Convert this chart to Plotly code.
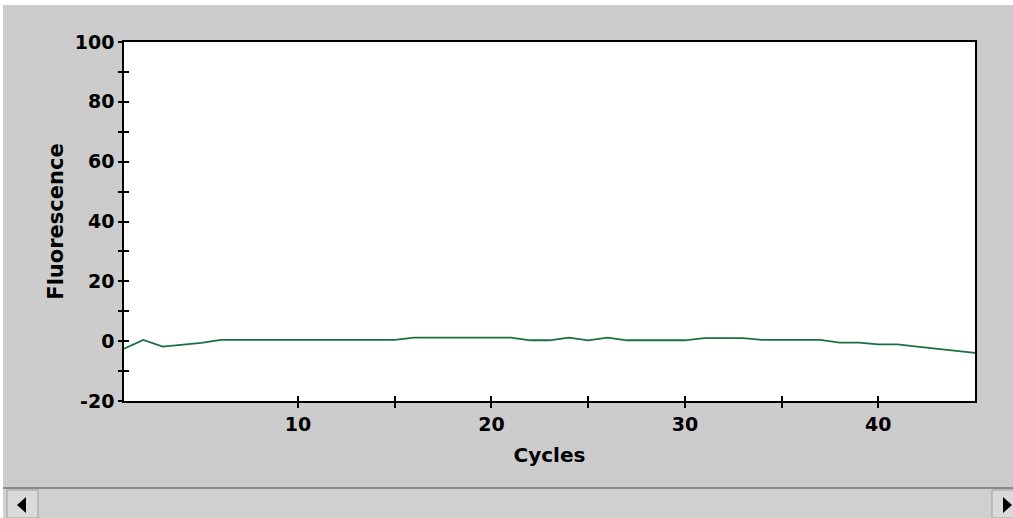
import plotly.graph_objects as go

cycles = list(range(1, 46))
fluorescence = [
    -2.5, 0.4, -1.8, -1.2, -0.6, 0.4, 0.4, 0.4, 0.4, 0.4,
    0.4, 0.4, 0.4, 0.4, 0.4, 1.2, 1.2, 1.2, 1.2, 1.2,
    1.2, 0.3, 0.3, 1.2, 0.3, 1.2, 0.3, 0.3, 0.3, 0.3,
    1.0, 1.0, 1.0, 0.4, 0.4, 0.4, 0.4, -0.5, -0.5, -1.1,
    -1.1, -1.8, -2.5, -3.2, -3.9,
]

x_tickvals = [10, 15, 20, 25, 30, 35, 40]
x_ticktext = ["10", "", "20", "", "30", "", "40"]
y_tickvals = [-20, -10, 0, 10, 20, 30, 40, 50, 60, 70, 80, 90, 100]
y_ticktext = ["-20", "", "0", "", "20", "", "40", "", "60", "", "80", "", "100"]
x_title = "Cycles"
y_title = "Fluorescence"

W, H = 1013, 518
L, R, T, B = 124, 38, 42, 117
PW, PH = W - L - R, H - T - B

def px(x):
    return (x - L) / PW

def py(y):
    return (H - B - y) / PH

GRAY = "#cccccc"
font_tick = dict(family="DejaVu Sans", size=19, color="black", weight="bold")
font_xtitle = dict(family="DejaVu Sans", size=20, color="black", weight="bold")
font_ytitle = dict(family="DejaVu Sans", size=21, color="black", weight="bold")

fig = go.Figure()
fig.add_trace(go.Scatter(
    x=cycles, y=fluorescence, mode="lines",
    line=dict(color="#1a7040", width=1.8),
    showlegend=False, hoverinfo="x+y",
))
# invisible trace on overlay axes so they render
fig.add_trace(go.Scatter(x=[1], y=[0], xaxis="x2", yaxis="y2", mode="markers",
                         marker=dict(opacity=0), showlegend=False, hoverinfo="skip"))

tick_style = dict(showgrid=False, zeroline=False, tickcolor="black", tickwidth=1.5)

fig.update_layout(
    width=W, height=H,
    margin=dict(l=L, r=R, t=T, b=B, pad=0),
    paper_bgcolor=GRAY, plot_bgcolor="white",
    xaxis=dict(range=[1, 45], tickmode="array", tickvals=x_tickvals, ticktext=x_ticktext,
               ticks="outside", ticklen=5, mirror=True, showline=True, linecolor="black",
               linewidth=1.5, tickfont=font_tick,
               title=dict(text=x_title, font=font_xtitle, standoff=14), **tick_style),
    yaxis=dict(range=[-20, 100], tickmode="array", tickvals=y_tickvals, ticktext=y_ticktext,
               ticks="outside", ticklen=4, mirror=True, showline=True, linecolor="black",
               linewidth=1.5, tickfont=font_tick,
               title=dict(text=y_title, font=font_ytitle, standoff=5), **tick_style),
    xaxis2=dict(range=[1, 45], overlaying="x", tickmode="array", tickvals=x_tickvals,
                ticks="inside", ticklen=5, showticklabels=False, showline=False, **tick_style),
    yaxis2=dict(range=[-20, 100], overlaying="y", tickmode="array", tickvals=y_tickvals,
                ticks="inside", ticklen=5, showticklabels=False, showline=False, **tick_style),
    shapes=[
        # white strips at top and left edge
        dict(type="rect", xref="paper", yref="paper", x0=px(0), x1=px(W), y0=py(5), y1=py(0),
             fillcolor="white", line=dict(width=0), layer="below"),
        dict(type="rect", xref="paper", yref="paper", x0=px(0), x1=px(3), y0=py(H), y1=py(0),
             fillcolor="white", line=dict(width=0), layer="below"),
        # scrollbar track
        dict(type="rect", xref="paper", yref="paper", x0=px(3), x1=px(W), y0=py(H), y1=py(488),
             fillcolor="#d0d0d0", line=dict(width=0), layer="below"),
        dict(type="line", xref="paper", yref="paper", x0=px(3), x1=px(W), y0=py(488), y1=py(488),
             line=dict(color="#8a8a8a", width=2)),
        # left button
        dict(type="rect", xref="paper", yref="paper", x0=px(7), x1=px(38), y0=py(H), y1=py(490),
             fillcolor="#dadada", line=dict(color="#a0a0a0", width=1)),
        dict(type="path", xref="paper", yref="paper",
             path=f"M {px(17)},{py(505)} L {px(26)},{py(497)} L {px(26)},{py(513)} Z",
             fillcolor="black", line=dict(width=0)),
        # right button
        dict(type="rect", xref="paper", yref="paper", x0=px(992), x1=px(W + 2), y0=py(H), y1=py(490),
             fillcolor="#dadada", line=dict(color="#a0a0a0", width=1)),
        dict(type="path", xref="paper", yref="paper",
             path=f"M {px(1012)},{py(505)} L {px(1003)},{py(497)} L {px(1003)},{py(513)} Z",
             fillcolor="black", line=dict(width=0)),
    ],
)

fig.write_html(
    "out.html",
    config={"displayModeBar": False},
    post_script="document.body.style.margin='0';document.body.style.padding='0';document.body.style.overflow='hidden';",
)
